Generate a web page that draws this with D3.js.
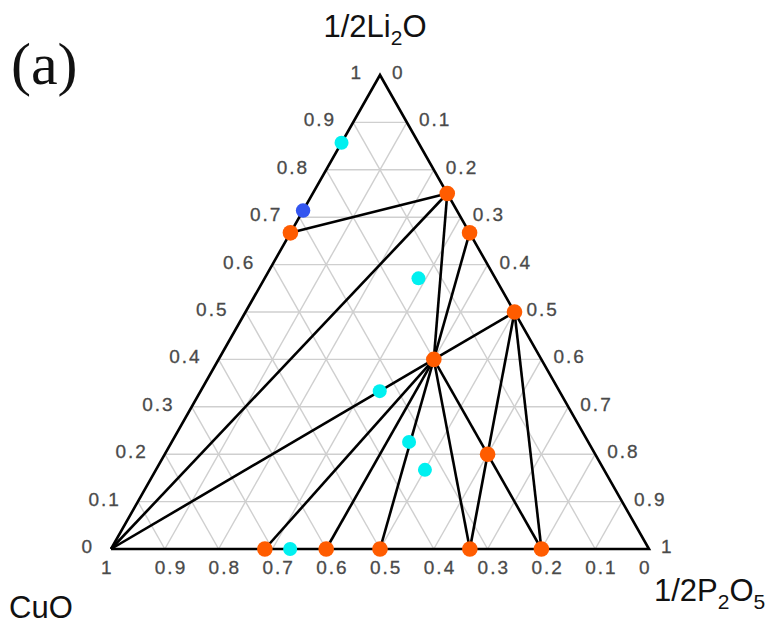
<!DOCTYPE html>
<html>
<head>
<meta charset="utf-8">
<script src="https://cdn.jsdelivr.net/npm/d3@7"></script>
<style>
	body { margin: 0; background: #fff; }
	svg { display: block; }
	.tick-label { font-family: "Liberation Sans", Arial, sans-serif; font-size: 19px; fill: #4a4a4a; stroke: #4a4a4a; stroke-width: 0.3px; letter-spacing: 2px; }
	.title { font-family: "Liberation Sans", Arial, sans-serif; font-size: 31px; fill: #111; }
</style>
</head>
<body>
<svg width="767" height="624"></svg>
<script>
// compositions are [CuO, 1/2Li2O, 1/2P2O5]
var orangePhases = [
	[0.333, 0.667, 0.000],
	[0.000, 0.750, 0.250],
	[0.000, 0.667, 0.333],
	[0.000, 0.500, 0.500],
	[0.200, 0.400, 0.400],
	[0.200, 0.200, 0.600],
	[0.714, 0.000, 0.286],
	[0.600, 0.000, 0.400],
	[0.500, 0.000, 0.500],
	[0.333, 0.000, 0.667],
	[0.200, 0.000, 0.800]
];

var cyanPhases = [
	[0.143, 0.857, 0.000],
	[0.143, 0.571, 0.286],
	[0.333, 0.333, 0.333],
	[0.333, 0.226, 0.441],
	[0.333, 0.167, 0.500],
	[0.667, 0.000, 0.333]
];

var bluePhases = [
	[0.286, 0.714, 0.000]
];

var cuo = [1, 0, 0];

// tie lines as [from, to]
var tieLines = [
	[orangePhases[0], orangePhases[1]],
	[cuo, orangePhases[1]],
	[cuo, orangePhases[4]],
	[orangePhases[1], orangePhases[4]],
	[orangePhases[2], orangePhases[4]],
	[orangePhases[3], orangePhases[4]],
	[orangePhases[4], orangePhases[6]],
	[orangePhases[4], orangePhases[7]],
	[orangePhases[4], orangePhases[8]],
	[orangePhases[4], orangePhases[9]],
	[orangePhases[4], orangePhases[10]],
	[orangePhases[3], orangePhases[5]],
	[orangePhases[3], orangePhases[10]],
	[orangePhases[5], orangePhases[9]]
];

var ticks = [0, 0.1, 0.2, 0.3, 0.4, 0.5, 0.6, 0.7, 0.8, 0.9, 1];
var tickText = ["0", "0.1", "0.2", "0.3", "0.4", "0.5", "0.6", "0.7", "0.8", "0.9", "1"];

var svg = d3.select("svg");

// horizontal position runs with P2O5 + Li2O/2, vertical with Li2O
var xScale = d3.scaleLinear().domain([0, 1]).range([111, 649]);
var yScale = d3.scaleLinear().domain([0, 1]).range([549, 75]);

function px(c) { return xScale(c[2] + c[1] / 2); }
function py(c) { return yScale(c[1]); }

var line = d3.line()
	.x(function (d) { return px(d); })
	.y(function (d) { return py(d); });

// grid
var grid = [];
ticks.slice(1, -1).forEach(function (t) {
	grid.push([[1 - t, t, 0], [0, t, 1 - t]]);     // constant Li2O
	grid.push([[1 - t, 0, t], [0, 1 - t, t]]);     // constant P2O5
	grid.push([[t, 1 - t, 0], [t, 0, 1 - t]]);     // constant CuO
});

svg.append("g")
	.selectAll("path")
	.data(grid)
	.enter().append("path")
		.attr("d", line)
		.attr("fill", "none")
		.attr("stroke", "#cfcfcf")
		.attr("stroke-width", 1.4);

// tie lines
svg.append("g")
	.selectAll("path")
	.data(tieLines)
	.enter().append("path")
		.attr("d", line)
		.attr("fill", "none")
		.attr("stroke", "#000")
		.attr("stroke-width", 2.6);

// outline
svg.append("path")
	.datum([[1, 0, 0], [0, 1, 0], [0, 0, 1], [1, 0, 0]])
	.attr("d", line)
	.attr("fill", "none")
	.attr("stroke", "#000")
	.attr("stroke-width", 2.6)
	.attr("stroke-linejoin", "miter");

// tick labels
var labels = svg.append("g").attr("class", "tick-label");

labels.selectAll(".left")
	.data(ticks)
	.enter().append("text")
		.attr("class", "left")
		.attr("x", function (t) { return px([1 - t, t, 0]) - 17; })
		.attr("y", function (t) { return py([1 - t, t, 0]) + 4; })
		.attr("text-anchor", "end")
		.text(function (t, i) { return tickText[i]; });

labels.selectAll(".right")
	.data(ticks)
	.enter().append("text")
		.attr("class", "right")
		.attr("x", function (t) { return px([0, 1 - t, t]) + 12; })
		.attr("y", function (t) { return py([0, 1 - t, t]) + 4; })
		.attr("text-anchor", "start")
		.text(function (t, i) { return tickText[i]; });

labels.selectAll(".bottom")
	.data(ticks)
	.enter().append("text")
		.attr("class", "bottom")
		.attr("x", function (t) { return px([t, 0, 1 - t]) - 10; })
		.attr("y", 574)
		.attr("text-anchor", "start")
		.text(function (t, i) { return tickText[i]; });

// phase points
function dots(data, r, color) {
	svg.append("g")
		.selectAll("circle")
		.data(data)
		.enter().append("circle")
			.attr("cx", px)
			.attr("cy", py)
			.attr("r", r)
			.attr("fill", color);
}
dots(orangePhases, 7.8, "#ff5c00");
dots(cyanPhases, 7, "#00f0f0");
dots(bluePhases, 7.2, "#3355f0");

// titles
var topTitle = svg.append("text")
	.attr("class", "title")
	.attr("x", 375)
	.attr("y", 37)
	.attr("text-anchor", "middle");
topTitle.append("tspan").text("1/2Li");
topTitle.append("tspan").attr("dy", 8).style("font-size", "21px").text("2");
topTitle.append("tspan").attr("dy", -8).text("O");

svg.append("text")
	.attr("class", "title")
	.attr("x", 9)
	.attr("y", 618)
	.text("CuO");

var rightTitle = svg.append("text")
	.attr("class", "title")
	.attr("x", 654)
	.attr("y", 601);
rightTitle.append("tspan").text("1/2P");
rightTitle.append("tspan").attr("dy", 8).style("font-size", "21px").text("2");
rightTitle.append("tspan").attr("dy", -8).text("O");
rightTitle.append("tspan").attr("dy", 8).style("font-size", "21px").text("5");

svg.append("text")
	.attr("x", 11)
	.attr("y", 84)
	.style("font-family", "'Liberation Serif', 'Times New Roman', serif")
	.style("font-size", "60px")
	.style("fill", "#111")
	.text("(a)");
</script>
</body>
</html>
